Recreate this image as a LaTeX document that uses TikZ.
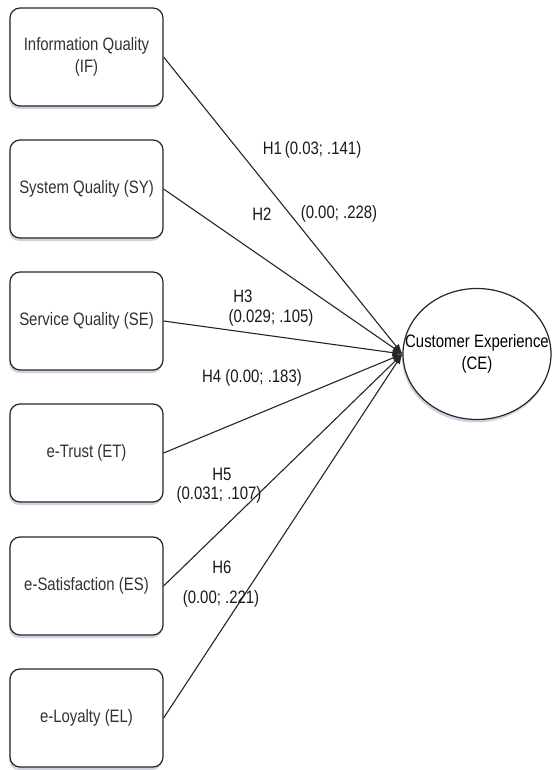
\documentclass[tikz,border=0pt]{standalone}
\usepackage{fontspec}
\setmainfont{Liberation Sans}[FakeStretch=0.83]
\usetikzlibrary{arrows.meta,shadows,shapes.geometric}
\definecolor{shadowc}{RGB}{120,130,170}
\definecolor{txtc}{RGB}{50,50,50}
\tikzset{
  varbox/.style={draw=black!85, line width=1.2pt, rounded corners=10pt, fill=white,
    minimum width=153pt, minimum height=98pt, inner sep=0pt, align=center,
    font=\fontsize{18}{22}\selectfont, text=txtc,
    drop shadow={shadow xshift=-1pt, shadow yshift=-3pt, fill=shadowc, opacity=0.35}},
  cebox/.style={ellipse, draw=black!85, line width=1.2pt, fill=white,
    minimum width=148pt, minimum height=131pt, inner sep=0pt,
    drop shadow={shadow xshift=-1pt, shadow yshift=-3pt, fill=shadowc, opacity=0.35}},
  cetext/.style={align=center, font=\fontsize{18}{22}\selectfont, text=black, inner sep=0pt},
  link/.style={draw=black!85, line width=1.1pt, -{Latex[length=10pt,width=7pt]}},
  lbl/.style={font=\fontsize{18}{22}\selectfont, inner sep=0pt, text=black!90}
}
\begin{document}
\begin{tikzpicture}[x=1pt,y=-1pt]
\useasboundingbox[fill=white] (0,0) rectangle (552,770);
\node[varbox] (IF) at (86.5,57) {Information Quality\\(IF)};
\node[varbox] (SY) at (86.5,189) {System Quality (SY)};
\node[varbox] (SE) at (86.5,321) {Service Quality (SE)};
\node[varbox] (ET) at (86.5,453) {e-Trust (ET)};
\node[varbox] (ES) at (86.5,586) {e-Satisfaction (ES)};
\node[varbox] (EL) at (86.5,718) {e-Loyalty (EL)};
\node[cebox] (CE) at (477,354) {};
\node[cetext] (CEt) at (CE.center) {Customer Experience\\(CE)};
\foreach \n in {IF,SY,SE,ET,ES,EL}{
  \draw[link] (\n.east) -- (CE.west);
}
\node[lbl] (l1) at (312,150) {H1\,(0.03; .141)};
\node[lbl] (l2a) at (262,214) {H2};
\node[lbl] (l2b) at (339,214) {(0.00; .228)};
\node[lbl] (l3a) at (243,296) {H3};
\node[lbl] (l3b) at (271,318) {(0.029; .105)};
\node[lbl] (l4) at (252,378) {H4 (0.00; .183)};
\node[lbl] (l5a) at (222,474) {H5};
\node[lbl] (l5b) at (219,495) {(0.031; .107)};
\node[lbl] (l6a) at (222,567) {H6};
\node[lbl] (l6b) at (221,599) {(0.00; .221)};
\end{tikzpicture}
\end{document}
